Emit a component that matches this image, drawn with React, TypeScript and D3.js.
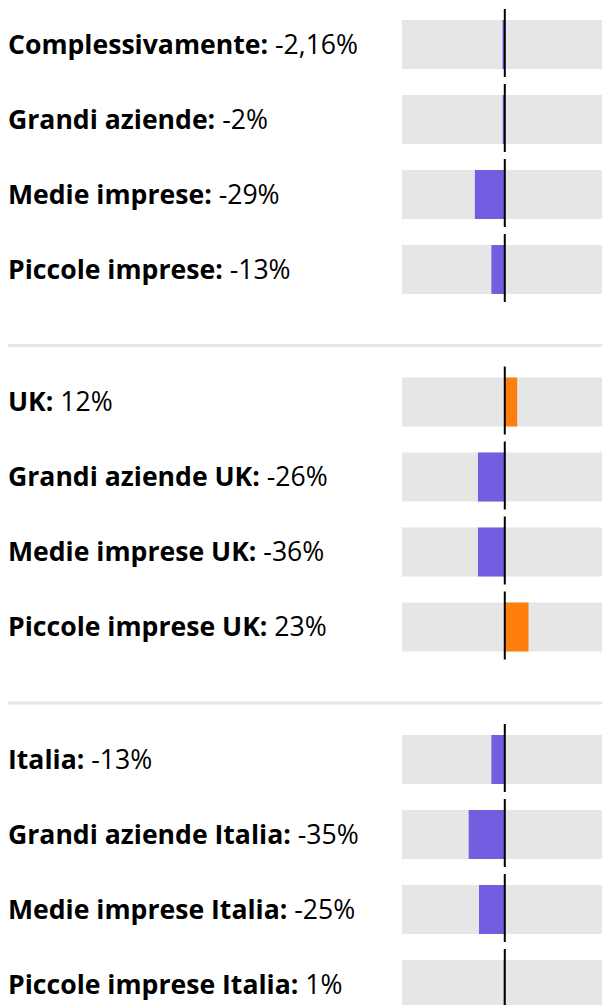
import React from "react";
import * as d3 from "d3";

const groups: string[][] = [
  ["Complessivamente", "Grandi aziende", "Medie imprese", "Piccole imprese"],
  ["UK", "Grandi aziende UK", "Medie imprese UK", "Piccole imprese UK"],
  ["Italia", "Grandi aziende Italia", "Medie imprese Italia", "Piccole imprese Italia"],
];
const valueLabels: string[][] = [
  ["-2,16%", "-2%", "-29%", "-13%"],
  ["12%", "-26%", "-36%", "23%"],
  ["-13%", "-35%", "-25%", "1%"],
];
const barValues: number[][] = [
  [-2.16, -2, -29, -13],
  [12, -26, -26, 23],
  [-13, -35, -25, -1],
];

const W = 602;
const H = 1005;

export default function App() {
  const x = d3.scaleLinear().domain([-99.7, 94.3]).range([402, 602]);
  const x0 = x(0);
  const groupScale = d3.scaleLinear().domain([0, 1]).range([20, 377.5]);
  const rowScale = d3.scaleLinear().domain([0, 1]).range([0, 75]);
  const trackH = 49;
  const neg = "#735DE0";
  const pos = "#FF7F0E";
  const grey = "#E6E6E6";

  return (
    <svg
      width={W}
      height={H}
      style={{ position: "absolute", left: 0, top: 0 }}
      fontFamily="'Open Sans', 'Noto Sans', sans-serif"
    >
      {groups.map((g, gi) => {
        const gy = groupScale(gi);
        return (
          <g key={gi}>
            {g.map((name, ri) => {
              const ty = gy + rowScale(ri);
              const v = barValues[gi][ri];
              const xv = x(v);
              return (
                <g key={ri}>
                  <text x={8} y={ty + 33.5} fontSize={26.6} fill="#000">
                    <tspan fontWeight="bold">{name}:</tspan>
                    <tspan fontWeight="normal"> {valueLabels[gi][ri]}</tspan>
                  </text>
                  <rect x={x.range()[0]} y={ty} width={x.range()[1] - x.range()[0]} height={trackH} fill={grey} />
                  <rect
                    x={Math.min(xv, x0)}
                    y={ty}
                    width={Math.abs(xv - x0)}
                    height={trackH}
                    fill={v < 0 ? neg : pos}
                  />
                  <line x1={x0} x2={x0} y1={ty - 11} y2={ty + trackH + 8} stroke="#000" strokeWidth={2} />
                </g>
              );
            })}
            {gi < groups.length - 1 && (
              <line
                x1={8}
                x2={W}
                y1={gy + rowScale(3) + trackH + 51.5}
                y2={gy + rowScale(3) + trackH + 51.5}
                stroke={grey}
                strokeWidth={3}
              />
            )}
          </g>
        );
      })}
    </svg>
  );
}
